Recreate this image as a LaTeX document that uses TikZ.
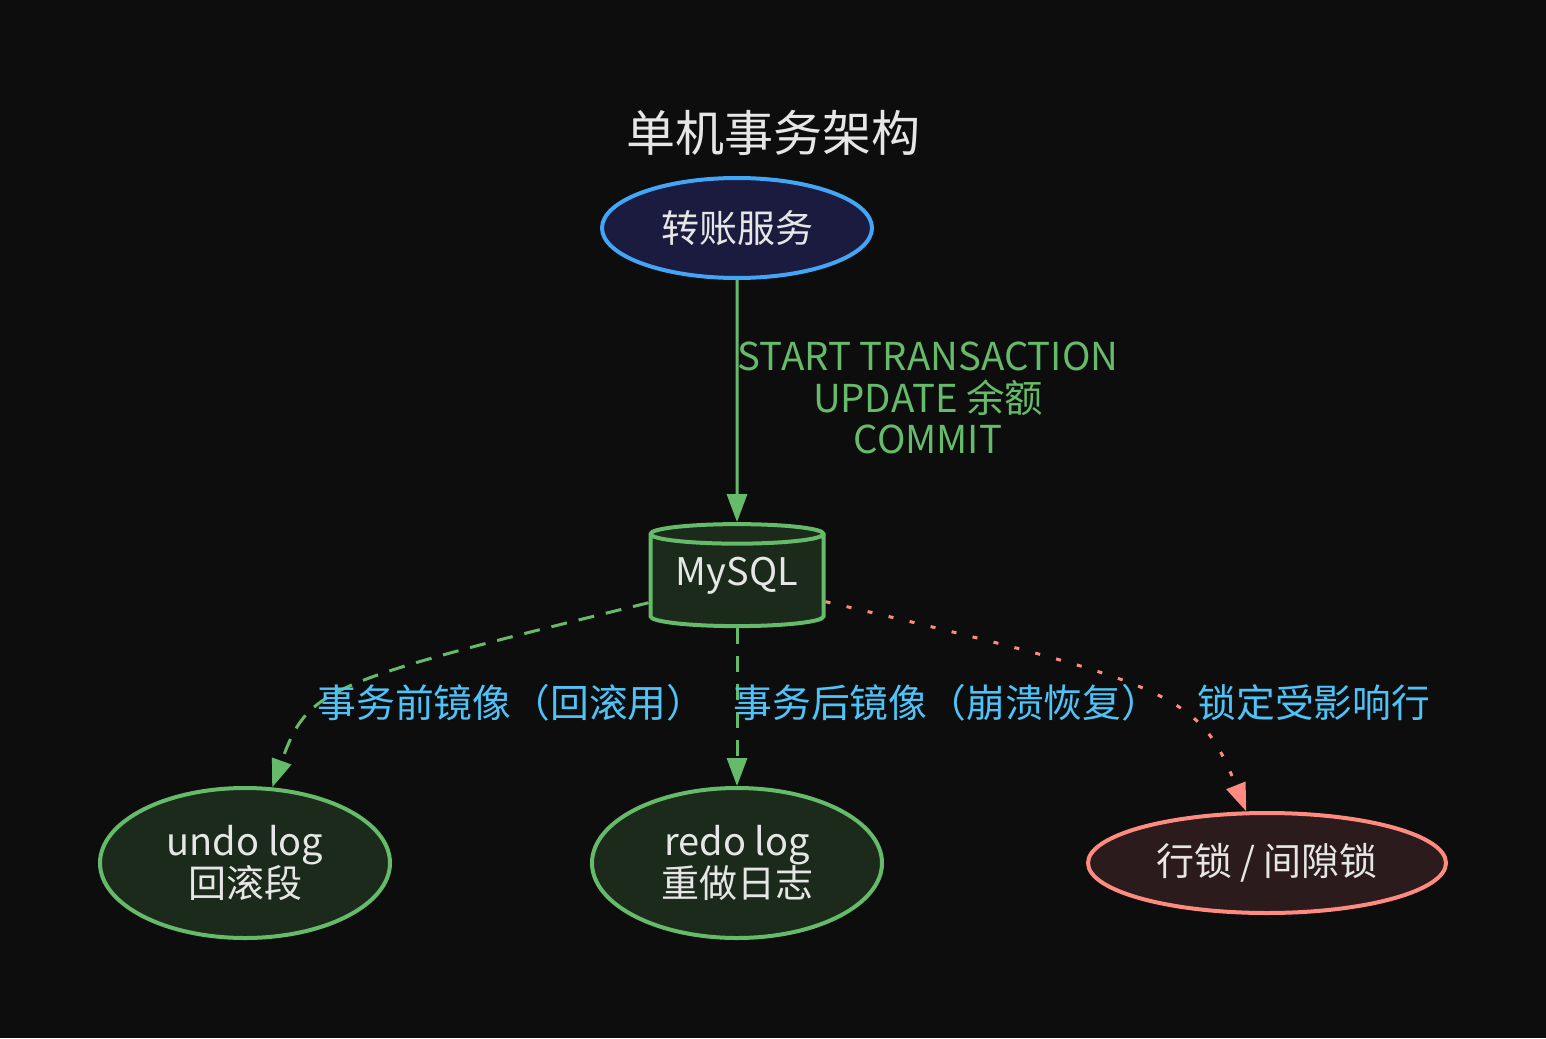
\documentclass[tikz,border=0pt]{standalone}
\usepackage{fontspec}
\setmainfont{Noto Sans CJK SC}
\usetikzlibrary{shapes.geometric, arrows.meta}

\definecolor{bgdark}{HTML}{0D0D0D}
\definecolor{nodetext}{HTML}{E6E6E6}
\definecolor{svcfill}{HTML}{1A1B3E}
\definecolor{svcline}{HTML}{42A5F5}
\definecolor{dbfill}{HTML}{1B2A1B}
\definecolor{dbline}{HTML}{66BB6A}
\definecolor{lockfill}{HTML}{2B1B1C}
\definecolor{lockline}{HTML}{FF8A80}
\definecolor{labelblue}{HTML}{4FC3F7}

\begin{document}
\begin{tikzpicture}[
    x=0.5pt, y=-0.5pt,
    every node/.style={font=\fontsize{19}{21}\selectfont, text=nodetext},
    unit/.style={
        draw,
        ellipse,
        line width=2pt,
        align=center,
        inner sep=0pt
    },
    store/.style={
        draw,
        cylinder,
        shape border rotate=90,
        aspect=0.16,
        line width=2pt,
        fill=dbfill,
        inner sep=0pt
    },
    elabel/.style={text=labelblue, anchor=west, inner sep=0pt,
        font=\fontsize{19.4}{21}\selectfont},
    arr/.style={-{Triangle[length=14pt, width=10pt]}, line width=1.5pt},
    dashedge/.style={arr, dash pattern=on 8pt off 6pt},
    dotedge/.style={arr, dash pattern=on 2.5pt off 8.3pt}
]

    % background and title
    \fill[bgdark] (0,0) rectangle (1546,1038);
    \node[font=\fontsize{24.5}{28}\selectfont] (title) at (773,133) {单机事务架构};

    % Service
    \node[
        unit,
        draw=svcline,
        fill=svcfill,
        minimum width=135pt,
        minimum height=50pt
    ] (service) at (737,228) {转账服务};

    % Database
    \node[
        store,
        draw=dbline,
        minimum width=86.5pt,
        minimum height=51pt
    ] (mysql) at (737,581) {\raisebox{2.5pt}[\height][\depth]{MySQL}};

    % Logs and locks
    \node[
        unit,
        draw=dbline,
        fill=dbfill,
        minimum width=145pt,
        minimum height=75pt
    ] (undo) at (245,863) {undo log\\回滚段};

    \node[
        unit,
        draw=dbline,
        fill=dbfill,
        minimum width=145pt,
        minimum height=75pt
    ] (redo) at (737,863) {redo log\\重做日志};

    \node[
        unit,
        draw=lockline,
        fill=lockfill,
        minimum width=179pt,
        minimum height=50pt
    ] (lock) at (1267,863) {行锁 / 间隙锁};

    % Arrows
    \draw[arr, dbline] (service) -- (mysql);
    \node[align=center, text=dbline, font=\fontsize{19.2}{20.75}\selectfont] (txlabel) at (928,398)
        {START TRANSACTION\\UPDATE 余额\\COMMIT};

    \draw[dashedge, dbline] (mysql) .. controls (322,683) and (308,688) .. (undo);
    \node[elabel] (undolabel) at (317,703) {事务前镜像（回滚用）};

    \draw[dashedge, dbline] (mysql) -- (redo);
    \node[elabel] (redolabel) at (733,703) {事务后镜像（崩溃恢复）};

    \draw[dotedge, lockline] (mysql) .. controls (1178,684) and (1200,696) .. (lock);
    \node[elabel] (locklabel) at (1197,703) {锁定受影响行};

\end{tikzpicture}
\end{document}
